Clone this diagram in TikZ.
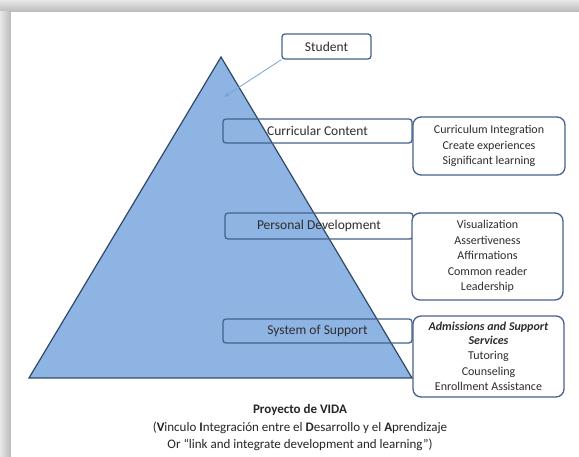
\documentclass[tikz,border=0pt]{standalone}
\usepackage{fontspec}
\setmainfont{Carlito}
\usetikzlibrary{arrows.meta}
\definecolor{trifill}{RGB}{142,180,227}
\definecolor{triedge}{RGB}{47,72,105}
\definecolor{boxedge}{RGB}{68,98,140}
\definecolor{arrowc}{RGB}{125,163,212}
\definecolor{txt}{RGB}{45,45,45}
\begin{document}
\begin{tikzpicture}[x=1pt,y=-1pt,
  lbl/.style={draw=boxedge,line width=1.3pt,rounded corners=3pt,inner sep=0pt,text=txt,font=\fontsize{13.5}{15}\selectfont},
  side/.style={draw=boxedge,line width=1.3pt,rounded corners=8pt,fill=white,inner sep=0pt,text=txt,align=center,font=\fontsize{12}{15.5}\selectfont},
]
\useasboundingbox (0,0) rectangle (579,457);
% frame shadow
\fill[gray!30] (0,0) rectangle (579,457);
\shade[top color=gray!18,bottom color=gray!55] (0,0) rectangle (579,12);
\shade[left color=gray!18,right color=gray!55] (0,12) rectangle (11,457);
\fill[white] (11,12) rectangle (579,457);
% triangle
\coordinate (apex) at (221,57);
\coordinate (bl) at (29,378);
\coordinate (br) at (412,378);
\filldraw[fill=trifill,draw=triedge,line width=1.2pt,line join=miter] (apex) -- (bl) -- (br) -- cycle;
% student
\node[lbl,fill=white,minimum width=89pt,minimum height=25pt] (student) at (326.5,46.5) {Student};
\coordinate (tgt) at (224,97);
\draw[arrowc,line width=0.8pt,-{Stealth[length=6pt,width=5pt,open]}] (student.south west) -- (tgt);
% left labels
\node[lbl,minimum width=189pt,minimum height=24pt] (cc) at (317.5,131) {Curricular Content};
\node[lbl,minimum width=188pt,minimum height=26pt] (pd) at (319,226) {Personal Development};
\node[lbl,minimum width=189pt,minimum height=24pt] (ss) at (317.5,331) {System of Support};
% right boxes
\node[side,minimum width=152pt,minimum height=58pt] (r1) at (489,146) {Curriculum Integration\\Create experiences\\Significant learning};
\node[side,minimum width=151pt,minimum height=87pt] (r2) at (487.5,256.5) {Visualization\\Assertiveness\\Affirmations\\Common reader\\Leadership};
\node[side,minimum width=151pt,minimum height=81pt] (r3) at (488.5,356.5) {\textbf{\textit{Admissions and Support}}\\[-1.5pt]\textbf{\textit{Services}}\\Tutoring\\Counseling\\Enrollment Assistance};
% caption
\node[align=center,text=black!85,font=\fontsize{13}{17.5}\selectfont] (cap) at (300,428) {\textbf{Proyecto de VIDA}\\(\textbf{V}inculo \textbf{I}ntegración entre el \textbf{D}esarrollo y el \textbf{A}prendizaje\\Or “link and integrate development and learning”)};
\end{tikzpicture}
\end{document}
